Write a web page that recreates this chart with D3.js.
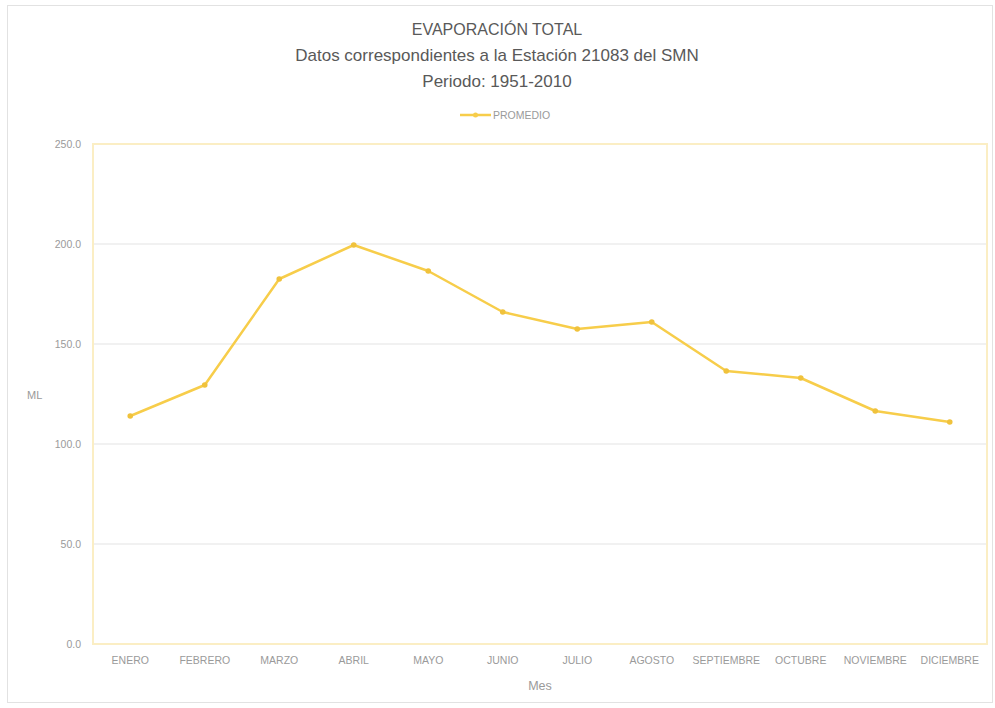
<!DOCTYPE html>
<html>
<head>
<meta charset="utf-8">
<script src="https://cdn.jsdelivr.net/npm/d3@7"></script>
<style>
  body { margin: 0; background: #fff; }
  text { font-family: "Liberation Sans", "DejaVu Sans", sans-serif; }
</style>
</head>
<body>
<script>
// datos
const meses = ['ENERO', 'FEBRERO', 'MARZO', 'ABRIL', 'MAYO', 'JUNIO', 'JULIO', 'AGOSTO', 'SEPTIEMBRE', 'OCTUBRE', 'NOVIEMBRE', 'DICIEMBRE']
const promedio = [114.0, 129.5, 182.5, 199.5, 186.5, 166.0, 157.5, 161.0, 136.5, 133.0, 116.5, 111.0]
const yTicks = [0, 50, 100, 150, 200, 250]
const titulos = ['EVAPORACIÓN TOTAL', 'Datos correspondientes a la Estación 21083 del SMN', 'Periodo: 1951-2010']

const W = 995
const H = 708
const margin = { top: 144, bottom: 64, left: 93, right: 8 }
const width = W - margin.left - margin.right
const height = H - margin.top - margin.bottom
const color = '#f7cd4a'
const gris = '#9a9a9a'

const svg = d3.select('body').append('svg').attr('width', W).attr('height', H)

// marco exterior
svg.append('rect')
	.attr('x', 7.5).attr('y', 5.5)
	.attr('width', W - 10).attr('height', 697)
	.attr('fill', 'none').attr('stroke', '#e2e2e2')

// titulos
svg.selectAll('.titulo')
	.data(titulos)
	.join('text')
	.attr('class', 'titulo')
	.attr('x', 497)
	.attr('y', (d, i) => 35 + i * 26)
	.attr('text-anchor', 'middle')
	.attr('font-size', (d, i) => i === 0 ? 16 : 17)
	.attr('fill', '#595959')
	.text(d => d)

// leyenda
const leg = svg.append('g').attr('transform', 'translate(460,115)')
leg.append('line').attr('x1', 0).attr('x2', 31).attr('stroke', color).attr('stroke-width', 2.5)
leg.append('circle').attr('cx', 15.5).attr('r', 2.5).attr('fill', color)
leg.append('text').attr('x', 33).attr('y', 3.5).attr('font-size', 10.5).attr('fill', gris).text('PROMEDIO')

const g = svg.append('g').attr('transform', `translate(${margin.left},${margin.top})`)

const x = d3.scaleBand().domain(meses).range([0, width])
const y = d3.scaleLinear().domain([0, 250]).range([height, 0])

// rejilla
g.append('g')
	.selectAll('line')
	.data(yTicks.slice(1, -1))
	.join('line')
	.attr('x1', 0).attr('x2', width)
	.attr('y1', d => y(d)).attr('y2', d => y(d))
	.attr('stroke', '#e4e4e4').attr('stroke-width', 1.2)

// borde del area de trazado
g.append('rect')
	.attr('width', width).attr('height', height)
	.attr('fill', 'none').attr('stroke', '#fbeec4').attr('stroke-width', 2)

// eje Y
const yaxis = d3.axisLeft(y).tickValues(yTicks).tickFormat(d3.format('.1f')).tickSize(0).tickPadding(12)
const gy = g.append('g').call(yaxis)
gy.select('.domain').remove()
gy.selectAll('text').attr('font-size', 10.5).attr('fill', gris)

// eje X
const xaxis = d3.axisBottom(x).tickSize(0).tickPadding(13)
const gx = g.append('g').attr('transform', `translate(0,${height})`).call(xaxis)
gx.select('.domain').remove()
gx.selectAll('text').attr('font-size', 10.5).attr('fill', gris)

// titulos de ejes
svg.append('text').attr('x', 27).attr('y', 399).attr('font-size', 11).attr('fill', gris).text('ML')
svg.append('text').attr('x', 540).attr('y', 690).attr('text-anchor', 'middle').attr('font-size', 12.5).attr('fill', gris).text('Mes')

// linea
const line = d3.line()
	.x((d, i) => x(meses[i]) + x.bandwidth() / 2)
	.y(d => y(d))

g.append('path')
	.datum(promedio)
	.attr('d', line)
	.attr('fill', 'none')
	.attr('stroke', color)
	.attr('stroke-width', 2.5)
	.attr('stroke-linejoin', 'round')

g.selectAll('.punto')
	.data(promedio)
	.join('circle')
	.attr('class', 'punto')
	.attr('cx', (d, i) => x(meses[i]) + x.bandwidth() / 2)
	.attr('cy', d => y(d))
	.attr('r', 2.8)
	.attr('fill', '#f0c23c')
</script>
</body>
</html>
